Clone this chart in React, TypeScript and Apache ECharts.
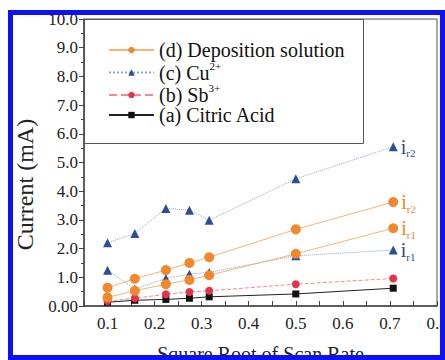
import React, { useEffect, useRef } from "react";
import * as echarts from "echarts";

const xValues = [0.1, 0.158, 0.224, 0.274, 0.316, 0.5, 0.707];
const citricAcid = [0.13, 0.2, 0.23, 0.27, 0.32, 0.42, 0.62];
const sb3 = [0.17, 0.27, 0.41, 0.49, 0.53, 0.76, 0.96];
const cuR1 = [1.25, 0.59, 0.96, 1.11, 1.17, 1.75, 1.95];
const cuR2 = [2.2, 2.53, 3.4, 3.34, 2.99, 4.43, 5.55];
const depR1 = [0.3, 0.53, 0.76, 0.91, 1.07, 1.82, 2.71];
const depR2 = [0.64, 0.95, 1.25, 1.5, 1.7, 2.67, 3.62];

const legendNames = ["(d) Deposition solution", "(c) Cu2+", "(b) Sb3+", "(a) Citric Acid"];
const legendRich: Record<string, string> = {
  "(d) Deposition solution": "{b|(d) Deposition solution}",
  "(c) Cu2+": "{b|(c) Cu}{sup|2+}",
  "(b) Sb3+": "{b|(b) Sb}{sup|3+}",
  "(a) Citric Acid": "{b|(a) Citric Acid}",
};

const FONT = '"Liberation Serif", "Times New Roman", serif';
const ORANGE = "#f2872b";
const BLUE = "#2c4c9c";
const RED = "#e6334a";

function makeData(vals: number[], label?: string, color?: string) {
  return vals.map((v, i) => {
    if (label && i === vals.length - 1) {
      return {
        value: [xValues[i], v],
        label: {
          show: true,
          position: "right",
          distance: 3,
          formatter: label,
          rich: {
            i: { fontSize: 20, fontFamily: FONT, color, lineHeight: 16 },
            s: { fontSize: 11, fontFamily: FONT, color, verticalAlign: "bottom", lineHeight: 10, padding: [0, 0, -4, 0] },
          },
        },
      };
    }
    return { value: [xValues[i], v] };
  });
}

export default function App() {
  const ref = useRef<HTMLDivElement>(null);
  useEffect(() => {
    if (!ref.current) return;
    const chart = echarts.init(ref.current, null, { renderer: "svg" });
    chart.setOption({
      animation: false,
      backgroundColor: "#fff",
      grid: {
        left: 84,
        right: 8,
        top: 19,
        bottom: 54,
        show: true,
        borderColor: "#555",
        borderWidth: 1,
        containLabel: false,
        outerBoundsMode: "none",
      },
      xAxis: {
        type: "value",
        min: 0.05,
        max: 0.8,
        interval: 0.05,
        name: "Square Root of Scan Rate",
        nameLocation: "middle",
        nameGap: 38,
        nameTextStyle: { fontSize: 20, fontFamily: FONT, color: "#222" },
        axisLine: { show: true, lineStyle: { color: "#444", width: 1.5 } },
        axisTick: { show: true, inside: true, length: 5, lineStyle: { color: "#444" } },
        axisLabel: {
          fontSize: 17,
          fontFamily: FONT,
          color: "#222",
          margin: 9,
          formatter: (v: number) => (Math.round(v * 100) % 10 === 0 ? v.toFixed(1) : ""),
        },
        splitLine: { show: false },
      },
      yAxis: {
        type: "value",
        min: 0,
        max: 10,
        interval: 1,
        name: "Current (mA)",
        nameLocation: "middle",
        nameGap: 44,
        nameTextStyle: { fontSize: 24, fontFamily: FONT, color: "#222", padding: [0, 44, 0, 0] },
        axisLine: { show: true, lineStyle: { color: "#444", width: 1.5 } },
        axisTick: { show: true, length: 5, lineStyle: { color: "#444" } },
        minorTick: { show: true, splitNumber: 2, length: 3, lineStyle: { color: "#444" } },
        axisLabel: {
          fontSize: 17,
          fontFamily: FONT,
          color: "#222",
          margin: 6,
          formatter: (v: number) => (v === 0 ? "0.00" : v.toFixed(1)),
        },
        splitLine: { show: false },
      },
      legend: {
        data: legendNames,
        orient: "vertical",
        left: 108,
        top: 40,
        padding: 0,
        itemGap: 0,
        itemWidth: 45,
        itemHeight: 8,
        formatter: (n: string) => legendRich[n] || n,
        textStyle: {
          fontFamily: FONT,
          fontSize: 20,
          color: "#111",
          rich: {
            b: { fontFamily: FONT, fontSize: 20, color: "#111", lineHeight: 25 },
            sup: { fontFamily: FONT, fontSize: 11, color: "#111", verticalAlign: "top", lineHeight: 12 },
          },
        },
      },
      graphic: [
        {
          type: "rect",
          shape: { x: 84.5, y: 19.5, width: 279, height: 124 },
          style: { fill: "none", stroke: "#555", lineWidth: 1 },
          z: 50,
        },
        {
          type: "rect",
          shape: { x: 10.5, y: 12.5, width: 432, height: 345 },
          style: { fill: "none", stroke: "#0d12f2", lineWidth: 5 },
          z: 100,
        },
      ],
      series: [
        {
          type: "line",
          name: "(a) Citric Acid",
          data: makeData(citricAcid),
          symbol: "rect",
          symbolSize: 7,
          itemStyle: { color: "#111" },
          lineStyle: { color: "#222", width: 1 },
        },
        {
          type: "line",
          name: "(b) Sb3+",
          data: makeData(sb3),
          symbol: "circle",
          symbolSize: 8,
          itemStyle: { color: RED },
          lineStyle: { color: "#ef8a90", width: 1, type: "dashed" },
        },
        {
          type: "line",
          name: "(c) Cu2+",
          data: makeData(cuR1, "{i|i}{s|r1}", BLUE),
          symbol: "triangle",
          symbolSize: 9,
          itemStyle: { color: BLUE },
          lineStyle: { color: "#8ea4d4", width: 1, type: "dotted" },
        },
        {
          type: "line",
          name: "(c) Cu2+",
          data: makeData(cuR2, "{i|i}{s|r2}", BLUE),
          symbol: "triangle",
          symbolSize: 9,
          itemStyle: { color: BLUE },
          lineStyle: { color: "#8ea4d4", width: 1, type: "dotted" },
        },
        {
          type: "line",
          name: "(d) Deposition solution",
          data: makeData(depR1, "{i|i}{s|r1}", ORANGE),
          symbol: "circle",
          symbolSize: 10,
          itemStyle: { color: ORANGE },
          lineStyle: { color: "#f6b47a", width: 1 },
        },
        {
          type: "line",
          name: "(d) Deposition solution",
          data: makeData(depR2, "{i|i}{s|r2}", ORANGE),
          symbol: "circle",
          symbolSize: 10,
          itemStyle: { color: ORANGE },
          lineStyle: { color: "#f6b47a", width: 1 },
        },
      ],
    });
    return () => chart.dispose();
  }, []);
  return (
    <div
      ref={ref}
      style={{ position: "fixed", left: 0, top: 0, width: 445, height: 360, background: "#fff" }}
    />
  );
}
